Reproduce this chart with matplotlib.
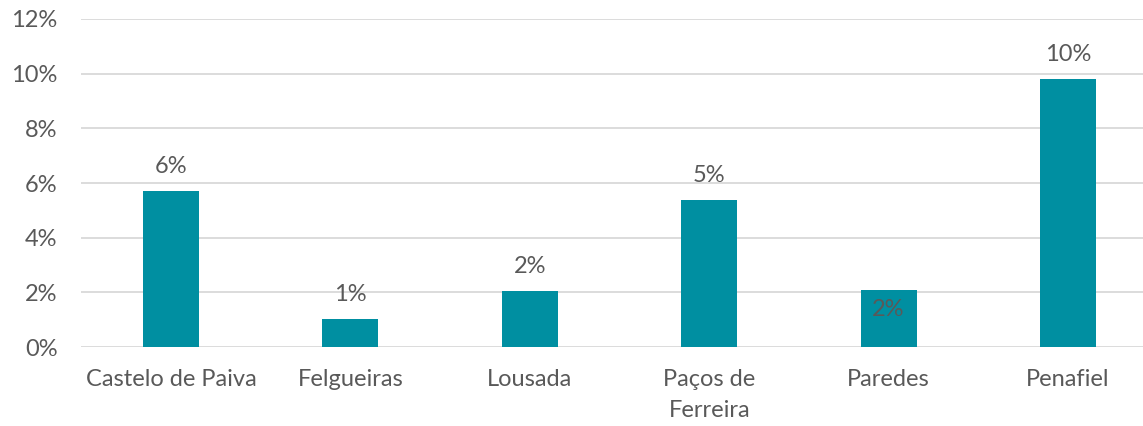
import matplotlib
matplotlib.use("Agg")
import matplotlib.pyplot as plt
from matplotlib.ticker import FuncFormatter

categories = ["Castelo de Paiva", "Felgueiras", "Lousada", "Paços de\nFerreira", "Paredes", "Penafiel"]
values = [5.7, 1.02, 2.04, 5.38, 2.07, 9.8]
labels = ["6%", "1%", "2%", "5%", "2%", "10%"]
inside = [False, False, False, False, True, False]

plt.rcParams['font.family'] = ['Lato', 'DejaVu Sans']
text_color = "#595959"
bar_color = "#008FA1"
fs = 17

fig = plt.figure(figsize=(11.43, 4.26), dpi=100)
left_px = 81.3
cat_px = 179.4
ax = fig.add_axes([left_px / 1143, 0.1854, 1 - left_px / 1143, 0.77])

x = list(range(len(categories)))
ax.bar(x, values, width=0.312, color=bar_color, zorder=3)
ax.set_xlim(-0.5, -0.5 + (1143 - left_px) / cat_px)
ax.set_ylim(0, 12)
ax.set_yticks([0, 2, 4, 6, 8, 10, 12])
ax.yaxis.set_major_formatter(FuncFormatter(lambda v, p: f"{int(v)}%"))
ax.set_xticks(x)
ax.set_xticklabels(categories, linespacing=1.55)
ax.grid(axis='y', color="#D9D9D9", linewidth=1.3, zorder=0)
for s in ax.spines.values():
    s.set_visible(False)
ax.tick_params(axis='both', length=0, labelsize=fs, colors=text_color)
ax.tick_params(axis='y', pad=17)
ax.tick_params(axis='x', pad=16)

for xi, v, lab, ins in zip(x, values, labels, inside):
    if ins:
        ax.annotate(lab, (xi, v), xytext=(0, -14), textcoords='offset points',
                    ha='center', va='center', fontsize=fs, color=text_color, zorder=4)
    else:
        ax.annotate(lab, (xi, v), xytext=(0, 10), textcoords='offset points',
                    ha='center', va='bottom', fontsize=fs, color=text_color, zorder=4)

fig.savefig("out.png", dpi=100)
